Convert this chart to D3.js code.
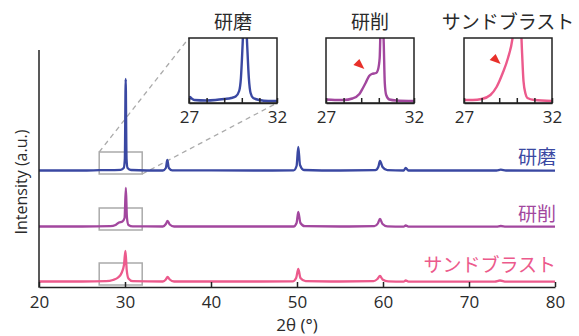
<!DOCTYPE html>
<html><head><meta charset="utf-8">
<script src="https://cdn.jsdelivr.net/npm/d3@7"></script>
<style>
body{margin:0;background:#fff;}
text{font-family:"Open Sans","Noto Sans CJK JP",sans-serif;}
.jp{font-family:"Noto Sans CJK JP",sans-serif;}
</style></head>
<body><svg id="c" width="579" height="336"></svg>
<script>
// ---- data ----
const categories = ["研磨", "研削", "サンドブラスト"];
const colors = ["#3a48a2", "#a2479e", "#ec5a8c"];
const xTicks = [20, 30, 40, 50, 60, 70, 80];
const insetTicks = [27, 28, 29, 30, 31, 32];
const insetTickLabels = [27, 32];
const offsets = [116, 60, 5]; // vertical stacking offsets (a.u.)

// main patterns [2θ, intensity a.u.]
const seriesPolished = [
  [20,0.5],[25,0.5],[27,0.8],[29.5,1.2],[29.85,3],[29.98,12],[30.08,92],[30.18,12],[30.3,3],[30.7,1],
  [34.4,0.5],[34.75,3],[34.92,11],[35.1,3],[35.5,0.6],[45,0.5],
  [49.6,0.6],[49.95,5],[50.15,24],[50.35,6],[50.8,1],[55,0.5],
  [59.1,0.8],[59.45,4],[59.65,10],[59.95,4],[60.5,0.8],
  [62.4,0.5],[62.64,3],[62.95,0.5],[73.2,0.5],[73.7,1.3],[74.3,0.5],[80,0.3]
];
const seriesGround = [
  [20,0.5],[25,0.5],[28.3,0.8],[28.9,2],[29.3,4.5],[29.7,5.5],[29.95,9],[30.1,39],[30.22,10],[30.4,2],[30.9,0.6],
  [34.4,0.5],[34.75,3],[34.95,6],[35.2,2.5],[35.7,0.5],[45,0.5],
  [49.6,0.5],[49.95,4],[50.15,15],[50.4,4],[50.9,0.8],[55,0.5],
  [59.0,0.8],[59.4,3.5],[59.65,8],[59.95,3],[60.5,0.6],
  [62.4,0.4],[62.64,1.5],[62.95,0.4],[73.2,0.4],[73.7,1],[74.3,0.4],[80,0.3]
];
const seriesBlasted = [
  [20,0.5],[25,0.5],[27.8,0.8],[28.6,2],[29.2,4.5],[29.6,9],[29.88,17],[30.05,31],[30.2,12],[30.4,3.5],[30.9,0.8],
  [34.4,0.5],[34.75,2.5],[34.95,5],[35.2,2.5],[35.7,0.5],[45,0.5],
  [49.5,0.6],[49.9,4],[50.15,13],[50.4,4],[51,0.8],[55,0.5],
  [58.9,0.8],[59.35,3],[59.65,6],[59.95,2.5],[60.6,0.6],
  [62.4,0.4],[62.64,1.5],[62.95,0.4],[73.0,0.4],[73.6,1.5],[74.3,0.4],[80,0.3]
];
// inset (27–32°) zoomed patterns
const insetPolished = [
  [27,3],[27.05,6],[27.15,4.5],[27.3,3],[28,2.5],[28.5,3],[29,4],[29.4,5],[29.65,6.5],[29.85,12],
  [29.95,25],[30.05,60],[30.17,110],[30.3,60],[30.4,25],[30.5,10],[30.65,5],[31,3],[31.5,2],[32,2]
];
const insetGround = [
  [27,3.5],[27.5,3],[28,3],[28.5,4.5],[28.9,9],[29.1,15],[29.25,20],[29.45,27],[29.6,29],[29.85,30],
  [29.95,33],[30.05,45],[30.15,110],[30.28,60],[30.34,20],[30.42,8],[30.6,3.5],[31,2.5],[32,2]
];
const insetBlasted = [
  [27,3],[27.5,3],[28,4],[28.5,8],[28.85,16],[29.2,30],[29.5,45],[29.75,64],[30.0,110],[30.2,90],
  [30.3,50],[30.38,22],[30.5,9],[30.6,5],[31,3],[32,2]
];
const mainSeries = [seriesPolished, seriesGround, seriesBlasted];
const insetSeries = [insetPolished, insetGround, insetBlasted];
// red arrow markers (2θ, intensity) in insets 2 and 3
const arrowTargets = [null, [29.35, 31], [29.25, 36]];

// ---- drawing ----
const svg = d3.select("#c");
const x = d3.scaleLinear().domain([20, 80]).range([39, 555]);
const y = d3.scaleLinear().domain([0, 237]).range([287, 50]);
const textCol = "#2a2a2a";

// gray zoom boxes
categories.forEach((c, i) => {
  svg.append("rect")
    .attr("x", x(27)).attr("y", y(offsets[i] + 19))
    .attr("width", x(32) - x(27)).attr("height", y(offsets[i] - 3) - y(offsets[i] + 19))
    .attr("fill", "none").attr("stroke", "#aaa").attr("stroke-width", 1.5);
});

// inset geometry
const insetLeft = [189, 326, 464];
const insetW = 88, insetTop = 38, insetBot = 103;
const iy = d3.scaleLinear().domain([0, 65]).range([insetBot, insetTop]);

// dashed connectors (first inset)
{
  const ix0 = d3.scaleLinear().domain([27, 32]).range([insetLeft[0], insetLeft[0] + insetW]);
  svg.append("line").attr("x1", x(27)).attr("y1", y(offsets[0] + 19)).attr("x2", ix0(27)).attr("y2", insetTop)
    .attr("stroke", "#aaa").attr("stroke-width", 1.3).attr("stroke-dasharray", "5,4");
  svg.append("line").attr("x1", x(32)).attr("y1", y(offsets[0] - 3)).attr("x2", ix0(32)).attr("y2", insetBot)
    .attr("stroke", "#aaa").attr("stroke-width", 1.3).attr("stroke-dasharray", "5,4");
}

// main traces
const line = (off) => d3.line().x(d => x(d[0])).y(d => y(d[1] + off)).curve(d3.curveMonotoneX);
mainSeries.forEach((s, i) => {
  svg.append("path").datum(s).attr("d", line(offsets[i]))
    .attr("fill", "none").attr("stroke", colors[i]).attr("stroke-width", 2.3).attr("stroke-linejoin", "round");
});

// series labels
const labelY = [157, 214, 265];
categories.forEach((c, i) => {
  svg.append("text").attr("class", "jp").attr("x", 556).attr("y", labelY[i]).attr("dy", "0.35em")
    .attr("text-anchor", "end").attr("font-size", 19).attr("fill", colors[i]).text(c);
});

// axes
const xAxis = d3.axisBottom(x).tickValues(xTicks).tickSizeInner(-5).tickSizeOuter(0).tickPadding(9);
const gx = svg.append("g").attr("transform", "translate(0,287)").call(xAxis);
gx.select(".domain").attr("stroke", "#222").attr("stroke-width", 1.5);
gx.selectAll(".tick line").attr("stroke", "#222").attr("stroke-width", 1.5);
gx.selectAll(".tick text").attr("font-size", 17).attr("fill", textCol).attr("font-family", "Open Sans");
svg.append("line").attr("x1", 39).attr("x2", 39).attr("y1", 50).attr("y2", 287.75)
  .attr("stroke", "#222").attr("stroke-width", 1.5);

svg.append("text").attr("x", 297).attr("y", 325).attr("dy", "0.35em").attr("text-anchor", "middle")
  .attr("font-size", 17).attr("fill", textCol).text("2θ (°)");
svg.append("text").attr("transform", "translate(21,182) rotate(-90)").attr("dy", "0.35em")
  .attr("text-anchor", "middle").attr("font-size", 16).attr("fill", textCol).text("Intensity (a.u.)");

// insets
const defs = svg.append("defs");
categories.forEach((c, i) => {
  const L = insetLeft[i];
  const ix = d3.scaleLinear().domain([27, 32]).range([L, L + insetW]);
  const g = svg.append("g");
  g.append("rect").attr("x", L).attr("y", insetTop).attr("width", insetW).attr("height", insetBot - insetTop)
    .attr("fill", "#fff").attr("stroke", "none");
  defs.append("clipPath").attr("id", "clip" + i).append("rect")
    .attr("x", L).attr("y", insetTop).attr("width", insetW).attr("height", insetBot - insetTop);
  g.append("path").datum(insetSeries[i])
    .attr("d", d3.line().x(d => ix(d[0])).y(d => iy(d[1])).curve(d3.curveMonotoneX))
    .attr("clip-path", "url(#clip" + i + ")")
    .attr("fill", "none").attr("stroke", colors[i]).attr("stroke-width", 2.4).attr("stroke-linejoin", "round");
  g.append("rect").attr("x", L).attr("y", insetTop).attr("width", insetW).attr("height", insetBot - insetTop)
    .attr("fill", "none").attr("stroke", "#222").attr("stroke-width", 1.5);
  const ax = d3.axisBottom(ix).tickValues(insetTicks).tickSizeInner(-5).tickSizeOuter(0)
    .tickFormat(d => insetTickLabels.includes(d) ? d : "").tickPadding(8);
  const ga = g.append("g").attr("transform", `translate(0,${insetBot})`).call(ax);
  ga.select(".domain").attr("stroke", "#222").attr("stroke-width", 1.5);
  ga.selectAll(".tick line").attr("stroke", "#222").attr("stroke-width", 1.5);
  ga.selectAll(".tick text").attr("font-size", 17).attr("fill", textCol).attr("font-family", "Open Sans");
  g.append("text").attr("class", "jp").attr("x", L + insetW / 2).attr("y", 22).attr("dy", "0.35em")
    .attr("text-anchor", "middle").attr("font-size", 19).attr("fill", textCol).text(c);
  if (arrowTargets[i]) {
    const tx = ix(arrowTargets[i][0]) - 3, ty = iy(arrowTargets[i][1]) - 3;
    // arrowhead pointing down-right toward the shoulder
    g.append("path")
      .attr("d", `M${tx},${ty} L${tx - 11},${ty - 4} L${tx - 5},${ty - 10} Z`)
      .attr("fill", "#e8302a");
  }
});
</script></body></html>
